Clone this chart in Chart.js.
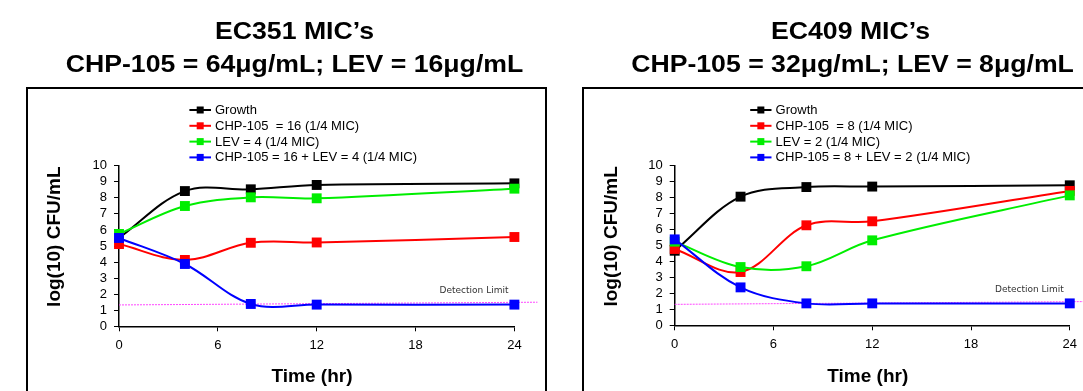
<!DOCTYPE html>
<html><head><meta charset="utf-8">
<script src="https://cdn.jsdelivr.net/npm/chart.js@4.4.1/dist/chart.umd.min.js"></script>
<style>
html,body{margin:0;padding:0;background:#fff;width:1083px;height:391px;overflow:hidden;position:relative}
.wrap{position:absolute;top:0;height:391px}
.box{position:absolute;border:2px solid #000;pointer-events:none}
</style></head><body>
<div class="wrap" style="left:0;width:545px"><canvas id="c1" width="545" height="391"></canvas></div>
<div class="wrap" style="left:545px;width:538px"><canvas id="c2" width="538" height="391"></canvas></div>
<div class="box" style="left:26px;top:87px;width:517px;height:400px;"></div>
<div class="box" style="left:582px;top:87px;width:600px;height:400px;"></div>
<script>
// ---- data ----
const timePoints = [0, 4, 8, 12, 24];
const xTickValues = [0, 6, 12, 18, 24];
const yTickValues = [0, 1, 2, 3, 4, 5, 6, 7, 8, 9, 10];

// EC351
const ec351Titles = ["EC351 MIC\u2019s", "CHP-105 = 64\u03bcg/mL; LEV = 16\u03bcg/mL"];
const ec351Labels = ["Growth", "CHP-105  = 16 (1/4 MIC)", "LEV = 4 (1/4 MIC)", "CHP-105 = 16 + LEV = 4 (1/4 MIC)"];
const ec351Growth = [5.5, 8.42, 8.53, 8.8, 8.9];
const ec351Chp = [5.12, 4.13, 5.2, 5.22, 5.56];
const ec351Lev = [5.75, 7.49, 8.03, 7.97, 8.57];
const ec351Combo = [5.5, 3.88, 1.39, 1.35, 1.35];
const ec351DetectX = [0, 25.4];
const ec351DetectY = [1.33, 1.5];

// EC409
const ec409Titles = ["EC409 MIC\u2019s", "CHP-105 = 32\u03bcg/mL; LEV = 8\u03bcg/mL"];
const ec409Labels = ["Growth", "CHP-105  = 8 (1/4 MIC)", "LEV = 2 (1/4 MIC)", "CHP-105 = 8 + LEV = 2 (1/4 MIC)"];
const ec409Growth = [4.66, 8.04, 8.64, 8.67, 8.75];
const ec409Chp = [4.77, 3.33, 6.25, 6.5, 8.4];
const ec409Lev = [5.23, 3.64, 3.69, 5.31, 8.12];
const ec409Combo = [5.37, 2.37, 1.37, 1.37, 1.37];
const ec409DetectX = [0, 24.8];
const ec409DetectY = [1.31, 1.48];

const detectionLabel = "Detection Limit";
const xAxisTitle = "Time (hr)";
const yAxisTitle = "log(10) CFU/mL";

const seriesColors = ['#000000', '#ff0000', '#00ee00', '#0000ff'];
const ARIAL = 'Arial, "Liberation Sans", sans-serif';

function pts(xs, ys) { return xs.map((x, i) => ({x: x, y: ys[i]})); }

function makeChart(id, labels, series, detX, detY, titles, lay) {
  const datasets = series.map((s, i) => ({
    label: labels[i],
    data: pts(timePoints, s),
    borderColor: seriesColors[i],
    backgroundColor: seriesColors[i],
    borderWidth: 2,
    pointStyle: 'rect',
    pointRadius: 7,
    pointBorderWidth: 0,
    tension: 0.35,
    clip: false,
    order: 4 - i
  }));
  datasets.push({
    label: detectionLabel,
    data: pts(detX, detY),
    borderColor: '#ff44ff',
    borderWidth: 1,
    borderDash: [2, 1],
    pointRadius: 0,
    tension: 0,
    clip: false,
    order: 10
  });

  const decor = {
    id: 'decor',
    afterDatasetsDraw(chart) {
      const ctx = chart.ctx, xs = chart.scales.x, ys = chart.scales.y;
      ctx.save();
      ctx.font = '9px "DejaVu Sans", sans-serif';
      ctx.fillStyle = '#333';
      ctx.textAlign = 'right';
      ctx.textBaseline = 'middle';
      ctx.fillText(detectionLabel, xs.getPixelForValue(23.64), ys.getPixelForValue(2.2));
      ctx.restore();
    },
    afterDraw(chart) {
      const ctx = chart.ctx;
      ctx.save();
      ctx.fillStyle = '#000';
      // titles
      ctx.font = 'bold 24px ' + ARIAL;
      ctx.textAlign = 'center';
      ctx.textBaseline = 'alphabetic';
      titles.forEach((t, i) => {
        ctx.save();
        ctx.translate(lay.titleX[i], lay.titleY[i]);
        ctx.scale(1.11, 1);
        ctx.fillText(t, 0, 0);
        ctx.restore();
      });
      // axis titles
      ctx.font = 'bold 19px ' + ARIAL;
      ctx.textBaseline = 'middle';
      ctx.fillText(xAxisTitle, lay.xTitle[0], lay.xTitle[1]);
      ctx.save();
      ctx.translate(lay.yTitle[0], lay.yTitle[1]);
      ctx.rotate(-Math.PI / 2);
      ctx.fillText(yAxisTitle, 0, 0);
      ctx.restore();
      // legend
      ctx.font = '13px ' + ARIAL;
      ctx.textAlign = 'left';
      chart.data.datasets.slice(0, 4).forEach((ds, i) => {
        const y = lay.legY + i * 15.8;
        ctx.strokeStyle = ds.borderColor;
        ctx.lineWidth = 2;
        ctx.beginPath();
        ctx.moveTo(lay.legX0, y);
        ctx.lineTo(lay.legX1, y);
        ctx.stroke();
        ctx.fillStyle = ds.backgroundColor;
        const cx = (lay.legX0 + lay.legX1) / 2;
        ctx.fillRect(cx - 3.5, y - 3.5, 7, 7);
        ctx.fillStyle = '#000';
        ctx.fillText(ds.label, lay.legTextX, y + 0.5);
      });
      ctx.restore();
    }
  };

  const tickFont = {family: ARIAL, size: 13};
  return new Chart(document.getElementById(id), {
    type: 'line',
    data: {datasets: datasets},
    options: {
      responsive: false,
      animation: false,
      events: [],
      layout: {padding: {left: 0, top: lay.top, right: lay.right, bottom: 0}},
      plugins: {legend: {display: false}, title: {display: false}, tooltip: {enabled: false}},
      scales: {
        x: {
          type: 'linear', min: 0, max: 24,
          afterBuildTicks: s => { s.ticks = xTickValues.map(v => ({value: v})); },
          afterFit: s => { s.height = lay.xH; },
          ticks: {font: tickFont, color: '#000', padding: 6, maxRotation: 0, autoSkip: false},
          grid: {display: true, drawOnChartArea: false, drawTicks: true, tickLength: 5, color: '#000', lineWidth: 1},
          border: {display: true, color: '#000', width: 1.5}
        },
        y: {
          type: 'linear', min: 0, max: 10,
          afterBuildTicks: s => { s.ticks = yTickValues.map(v => ({value: v})); },
          afterFit: s => { s.width = lay.yW; },
          ticks: {font: tickFont, color: '#000', padding: 7, autoSkip: false},
          grid: {display: true, drawOnChartArea: false, drawTicks: true, tickLength: 5, color: '#000', lineWidth: 1},
          border: {display: true, color: '#000', width: 1.5}
        }
      }
    },
    plugins: [decor]
  });
}

makeChart('c1', ec351Labels, [ec351Growth, ec351Chp, ec351Lev, ec351Combo], ec351DetectX, ec351DetectY, ec351Titles, {
  top: 165.7, right: 30.6, yW: 119, xH: 64.7,
  titleX: [294.5, 294.5], titleY: [38.5, 71.5],
  xTitle: [312, 377], yTitle: [55, 236.7],
  legX0: 189.4, legX1: 211, legTextX: 215, legY: 110
});
makeChart('c2', ec409Labels, [ec409Growth, ec409Chp, ec409Lev, ec409Combo], ec409DetectX, ec409DetectY, ec409Titles, {
  top: 165.3, right: 12, yW: 129.7, xH: 65.7,
  titleX: [305.5, 307.5], titleY: [38.5, 71.5],
  xTitle: [322.8, 377], yTitle: [66.9, 236.4],
  legX0: 205.2, legX1: 226.5, legTextX: 230.6, legY: 110
});
</script>
</body></html>
